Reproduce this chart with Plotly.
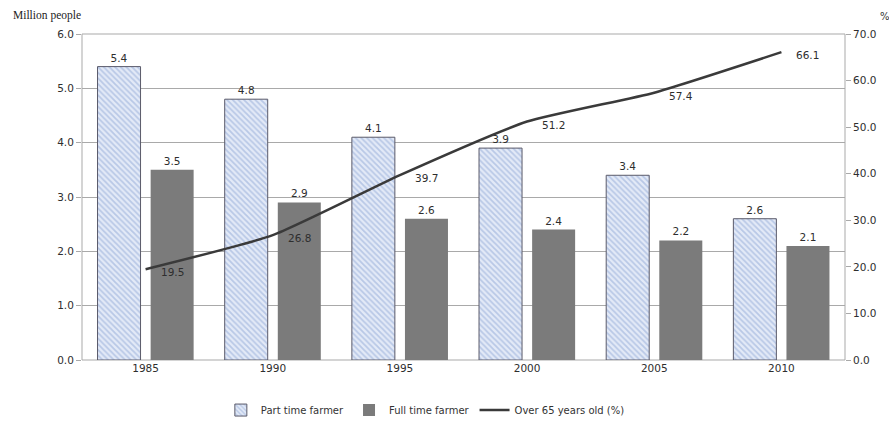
import plotly.graph_objects as go

# Farm household data by census year
years = ["1985", "1990", "1995", "2000", "2005", "2010"]
part_time = [5.4, 4.8, 4.1, 3.9, 3.4, 2.6]       # million people
full_time = [3.5, 2.9, 2.6, 2.4, 2.2, 2.1]       # million people
over_65_pct = [19.5, 26.8, 39.7, 51.2, 57.4, 66.1]  # share aged over 65 (%)

left_ticks = [0, 1, 2, 3, 4, 5, 6]
right_ticks = [0, 10, 20, 30, 40, 50, 60, 70]

TICK_FONT = dict(family="DejaVu Sans", size=10.5, color="#2e2e2e")
GRID = "#a9a9a9"

fig = go.Figure()

fig.add_trace(go.Bar(
    x=years, y=part_time, name="Part time farmer",
    marker=dict(
        color="#e3eaf7",
        line=dict(color="#5a5a6a", width=1),
        pattern=dict(shape="\\", fgcolor="#8ea6d6", bgcolor="#e3eaf7",
                     size=4, solidity=0.45),
    ),
    text=[f"{v:.1f}" for v in part_time], textposition="outside",
    textfont=TICK_FONT, cliponaxis=False,
))
fig.add_trace(go.Bar(
    x=years, y=full_time, name="Full time farmer",
    marker=dict(color="#7b7b7b", line=dict(width=0)),
    text=[f"{v:.1f}" for v in full_time], textposition="outside",
    textfont=TICK_FONT, cliponaxis=False,
))
fig.add_trace(go.Scatter(
    x=years, y=over_65_pct, name="Over 65 years old (%)",
    yaxis="y2", mode="lines",
    line=dict(color="#3a3a3a", width=2.5, shape="spline", smoothing=0.5),
))

# value labels for the line, placed just right of each point
for i, v in enumerate(over_65_pct):
    fig.add_annotation(
        x=i, y=v, xref="x", yref="y2", text=f"{v:.1f}",
        showarrow=False, xanchor="left", xshift=13, yshift=-3,
        font=TICK_FONT,
    )

fig.add_annotation(
    x=-0.093, y=1.0, xref="paper", yref="paper", yanchor="bottom", yshift=10,
    xanchor="left", text="Million people", showarrow=False,
    font=dict(family="Liberation Serif", size=11.5, color="#222222"),
)
fig.add_annotation(
    x=1.043, y=1.0, xref="paper", yref="paper", yanchor="bottom", yshift=10,
    xanchor="left", text="%", showarrow=False,
    font=dict(family="DejaVu Sans", size=10, color="#333333"),
)

# plot-area frame
fig.add_shape(type="rect", xref="paper", yref="paper", x0=0, y0=0, x1=1, y1=1,
              line=dict(color=GRID, width=1), layer="below")

fig.update_layout(
    width=889, height=422,
    margin=dict(l=82, r=44, t=34, b=62, autoexpand=False),
    paper_bgcolor="white", plot_bgcolor="white",
    barmode="group", bargap=0.165, bargroupgap=0.19,
    font=TICK_FONT,
    showlegend=True,
    legend=dict(orientation="h", x=0.45, xanchor="center", y=-0.198, yanchor="bottom",
                font=dict(family="DejaVu Sans", size=10, color="#333333"),
                itemwidth=30, tracegroupgap=0, bgcolor="rgba(0,0,0,0)"),
    xaxis=dict(
        type="category", categoryorder="array", categoryarray=years,
        range=[-0.5, len(years) - 0.5],
        showgrid=False, zeroline=False, showline=False, ticks="",
        tickfont=TICK_FONT, automargin=False,
    ),
    yaxis=dict(
        range=[0, 6], tickmode="array", tickvals=left_ticks,
        ticktext=[f"{v:.1f}" for v in left_ticks],
        showgrid=True, gridcolor=GRID, gridwidth=1, zeroline=False,
        ticks="outside", ticklen=5, tickcolor=GRID, showline=False,
        tickfont=TICK_FONT, automargin=False,
    ),
    yaxis2=dict(
        range=[0, 70], overlaying="y", side="right", tickmode="array",
        tickvals=right_ticks, ticktext=[f"{v:.1f}" for v in right_ticks],
        showgrid=False, zeroline=False, ticks="outside", ticklen=5,
        tickcolor=GRID, showline=False, tickfont=TICK_FONT, automargin=False,
    ),
)

fig.write_html("out.html")
